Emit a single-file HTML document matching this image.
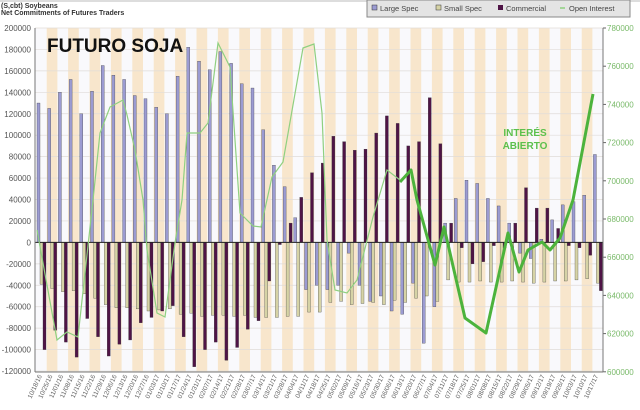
<!DOCTYPE html>
<html><head><meta charset="utf-8"><style>
html,body{margin:0;padding:0;background:#fff;}
svg{display:block;font-family:"Liberation Sans",sans-serif;}
</style></head><body>
<svg id="c" width="640" height="410" xmlns="http://www.w3.org/2000/svg"></svg>
<script>
const s=document.getElementById('c');let h='';
const X0=37,W=10.7,N=53,Z=242.4,K=21.44/20000;
const y=v=>Z-v*1000*K;
// background bands
h+='<rect x="35" y="28" width="568" height="344" fill="#f9f9fc"/>';
for(let i=0;i<N;i++){if(i%2==1)h+=`<rect x="${X0+W*i-1}" y="28" width="${W}" height="344" fill="#f8e6cc"/>`;}
for(let v=-120;v<=200;v+=20){h+=`<line x1="35" x2="603" y1="${y(v)}" y2="${y(v)}" stroke="#e0dcd8" stroke-width="0.7"/>`;
h+=`<text x="31" y="${y(v)+3}" font-size="8" fill="#555" text-anchor="end">${v*1000}</text>`;}
for(let v=600;v<=780;v+=20){const yy=28+(780-v)/20*38.2;h+=`<text x="607" y="${yy+3}" font-size="8" fill="#7aba6a">${v*1000}</text><line x1="603" x2="606" y1="${yy}" y2="${yy}" stroke="#666"/>`;}
const L=[130,125,140,152,120,141,165,156,152,137,134,126,120,155,182,169,161,178,167,148,144,105,72,52,23,-44,-40,-44,-40,-10,-40,-55,-50,-64,-67,-38,-94,-60,18,41,58,55,41,34,18,-10,-15,3,21,35,38,44,82];
const S=[-39,-43,-46,-45,-48,-52,-58,-61,-61,-62,-64,-63,-62,-67,-66,-69,-68,-68,-69,-68,-70,-70,-70,-69,-69,-65,-65,-56,-55,-58,-57,-56,-58,-54,-56,-52,-50,-55,-35,-37,-37,-36,-37,-37,-36,-37,-38,-37,-36,-36,-35,-34,-38];
const C=[-100,-82,-93,-107,-71,-88,-106,-95,-91,-75,-70,-64,-59,-88,-116,-100,-93,-110,-98,-81,-73,-36,-2,18,42,65,74,99,94,86,87,102,118,111,90,94,135,92,18,-5,-20,-18,-3,-5,18,51,32,32,13,-3,-5,-12,-45];
function bar(x,v,f){const a=y(v),b=Z;h+=`<rect x="${x}" y="${Math.min(a,b)}" width="3" height="${Math.abs(b-a)}" fill="${f}" stroke="#333" stroke-width="0.3"/>`;}
for(let i=0;i<N;i++){const x=X0+W*i;bar(x,L[i],'#9b9bd2');bar(x+3,S[i],'#d6d3a6');bar(x+6,C[i],'#4f1446');}
h+='<line x1="35" x2="603" y1="242.4" y2="242.4" stroke="#222" stroke-width="1"/>';
h+='<line x1="35" x2="35" y1="28" y2="372" stroke="#777"/><line x1="603" x2="603" y1="28" y2="372" stroke="#777"/><line x1="35" x2="603" y1="372" y2="372" stroke="#777"/>';
const thin=[[37,230],[57,340],[67,332],[78,337],[93,200],[100,133],[110,107],[123,100],[127,115],[135,150],[143,200],[147,250],[157,313],[165,317],[175,243],[182,200],[187,133],[200,133],[208,123],[218,43],[230,67],[240,213],[253,226],[261,227],[272,177],[283,162],[303,48],[314,44],[322,113],[327,240],[335,290],[347,293],[357,280],[373,217],[387,170],[400,180]];
h+=`<polyline points="${thin.map(p=>p.join(',')).join(' ')}" fill="none" stroke="#8fd080" stroke-width="1.2"/>`;
const thick=[[400,182],[411,170],[417,200],[435,265],[444,227],[465,318],[486,333],[508,233],[519,272],[528,250],[542,242],[550,250],[560,238],[573,200],[593,94]];
h+=`<polyline points="${thick.map(p=>p.join(',')).join(' ')}" fill="none" stroke="#4cb33c" stroke-width="3" stroke-linejoin="round"/>`;
// dates
let d=new Date(2016,9,18);
for(let i=0;i<N;i++){const mm=String(d.getMonth()+1).padStart(2,'0'),dd=String(d.getDate()).padStart(2,'0'),yy=String(d.getFullYear()).slice(2);
const x=X0+W*i+5;h+=`<text transform="translate(${x},376) rotate(-65)" font-size="6.5" fill="#666" text-anchor="end">${mm}/${dd}/${yy}</text>`;d.setDate(d.getDate()+7);}
// titles
h+='<line x1="0" x2="640" y1="1" y2="1" stroke="#bbb"/>';
h+='<text x="1" y="8" font-size="7" font-weight="bold" fill="#333">(S,cbt) Soybeans</text><text x="1" y="15" font-size="7" font-weight="bold" fill="#333">Net Commitments of Futures Traders</text>';
h+='<rect x="367" y="0" width="263" height="17" fill="#e4e4e4" stroke="#888"/>';
h+='<rect x="372" y="5" width="5" height="5" fill="#9b9bd2" stroke="#333" stroke-width="0.5"/><text x="380" y="11" font-size="7.5" fill="#444">Large Spec</text>';
h+='<rect x="436" y="5" width="5" height="5" fill="#d6d3a6" stroke="#333" stroke-width="0.5"/><text x="444" y="11" font-size="7.5" fill="#444">Small Spec</text>';
h+='<rect x="498" y="5" width="5" height="5" fill="#4f1446"/><text x="506" y="11" font-size="7.5" fill="#444">Commercial</text>';
h+='<line x1="560" x2="565" y1="8" y2="8" stroke="#8fd080" stroke-width="1.5"/><text x="569" y="11" font-size="7.5" fill="#444">Open Interest</text>';
h+='<text x="47" y="52" font-size="19" font-weight="bold" fill="#111">FUTURO SOJA</text>';
h+='<text x="525" y="136" font-size="10" font-weight="bold" fill="#5cc04c" text-anchor="middle">INTERÉS</text><text x="525" y="149" font-size="10" font-weight="bold" fill="#5cc04c" text-anchor="middle">ABIERTO</text>';
s.innerHTML=h;
</script>
</body></html>
